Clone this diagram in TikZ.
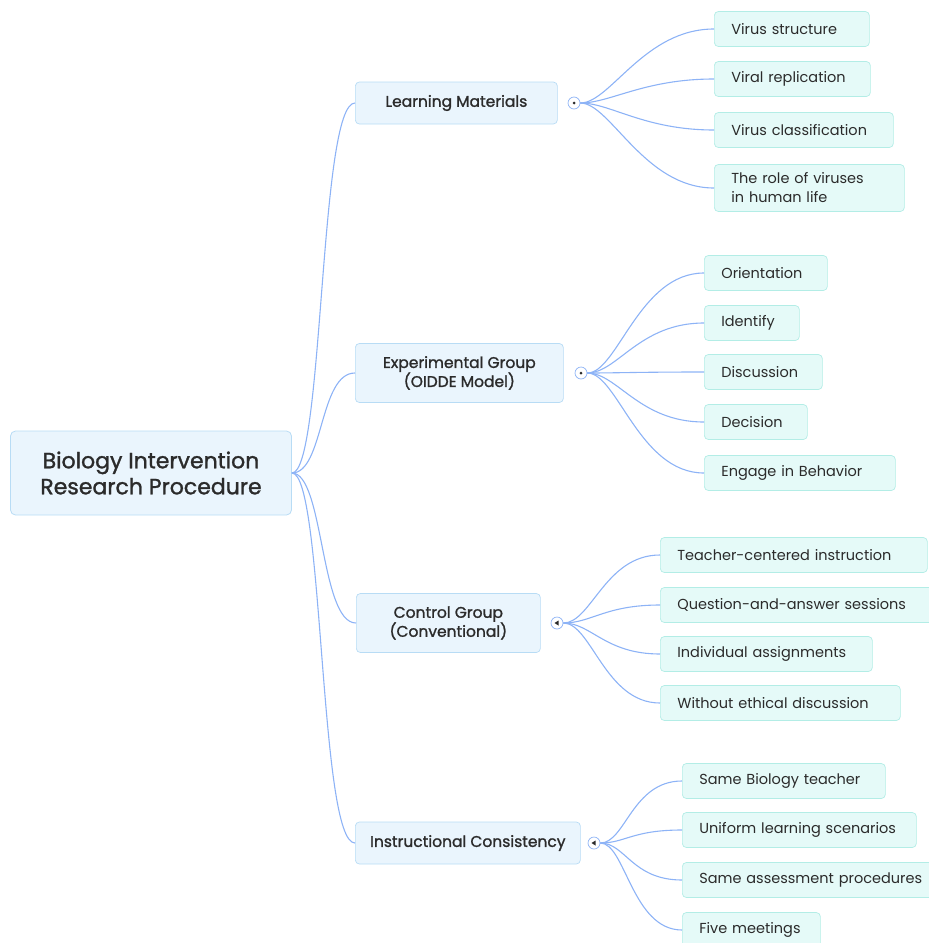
\documentclass[tikz,border=0pt]{standalone}
\usepackage{fontspec}
\setmainfont{Poppins}[BoldFont=Poppins, BoldFeatures={FakeBold=1.3}]
\usepackage{tikz}
\definecolor{linkblue}{HTML}{8DB3F6}
\definecolor{rootfill}{HTML}{EAF5FD}
\definecolor{rootline}{HTML}{B8DCF5}
\definecolor{leaffill}{HTML}{E5FAF8}
\definecolor{leafline}{HTML}{B3EDE6}
\definecolor{textgray}{HTML}{2B2B2B}
\tikzstyle{root} = [draw=rootline, fill=rootfill, rounded corners=5pt, line width=0.8pt, minimum width=281pt, minimum height=84pt, align=center, text=textgray, font=\fontsize{22}{26}\selectfont\bfseries]
\tikzstyle{topic} = [draw=rootline, fill=rootfill, rounded corners=4pt, line width=0.7pt, minimum height=42pt, align=center, text=textgray, font=\fontsize{15.5}{19}\selectfont\bfseries, anchor=west]
\tikzstyle{leaf} = [draw=leafline, fill=leaffill, rounded corners=4pt, line width=0.7pt, inner xsep=17pt, minimum height=35pt, align=left, text=textgray, font=\fontsize{14.5}{19}\selectfont, anchor=west]
\tikzstyle{knob} = [circle, draw=linkblue, fill=white, line width=0.7pt, minimum size=12pt, inner sep=0pt]
\tikzstyle{link} = [draw=linkblue, line width=1.1pt]

\begin{document}
\begin{tikzpicture}[x=1pt, y=-1pt]

	\useasboundingbox (0,0) rectangle (929,943);

	% nodes
	\node[root] (R) at (151,473) {Biology Intervention\\Research Procedure};

	\node[topic, minimum width=202pt] (A) at (355,103) {Learning Materials};
	\node[topic, minimum width=208pt, minimum height=59pt] (B) at (355,373) {Experimental Group\\(OIDDE Model)};
	\node[topic, minimum width=184pt, minimum height=59pt] (C) at (356,623) {Control Group\\(Conventional)};
	\node[topic, minimum width=225pt] (D) at (355,843) {Instructional Consistency};

	\node[knob] (Ak) at (574,103) {};
	\node[knob] (Bk) at (581,373) {};
	\node[knob] (Ck) at (557,623) {};
	\node[knob] (Dk) at (594,843) {};

	\node[leaf, text width=121pt] (A1) at (714,29) {Virus structure};
	\node[leaf, text width=122pt] (A2) at (714,79) {Viral replication};
	\node[leaf, text width=145pt] (A3) at (714,130) {Virus classification};
	\node[leaf, text width=156pt, minimum height=47pt] (A4) at (714,188) {The role of viruses\\in human life};

	\node[leaf, text width=89pt] (B1) at (704,273) {Orientation};
	\node[leaf, text width=61pt] (B2) at (704,323) {Identify};
	\node[leaf, text width=84pt] (B3) at (704,372) {Discussion};
	\node[leaf, text width=69pt] (B4) at (704,422) {Decision};
	\node[leaf, text width=157pt] (B5) at (704,473) {Engage in Behavior};

	\node[leaf, text width=233pt] (C1) at (660,555) {Teacher-centered instruction};
	\node[leaf, text width=241pt] (C2) at (660,605) {Question-and-answer sessions};
	\node[leaf, text width=178pt] (C3) at (660,654) {Individual assignments};
	\node[leaf, text width=206pt] (C4) at (660,703) {Without ethical discussion};

	\node[leaf, text width=169pt] (D1) at (682,781) {Same Biology teacher};
	\node[leaf, text width=200pt] (D2) at (682,830) {Uniform learning scenarios};
	\node[leaf, text width=231pt] (D3) at (682,880) {Same assessment procedures};
	\node[leaf, text width=104pt] (D4) at (682,930) {Five meetings};

	% knob marks
	\fill[textgray] (Ak) circle (1.5pt);
	\fill[textgray] (Bk) circle (1.5pt);
	\fill[textgray] ([xshift=-2.5pt]Ck.center) -- ++(4,-2.5) -- ++(0,5) -- cycle;
	\fill[textgray] ([xshift=-2.5pt]Dk.center) -- ++(4,-2.5) -- ++(0,5) -- cycle;

	% links
	\draw [link] (R.east) .. controls +(32,0) and +(-36,0) .. (A.west);
	\draw [link] (R.east) .. controls +(32,0) and +(-36,0) .. (B.west);
	\draw [link] (R.east) .. controls +(32,0) and +(-36,0) .. (C.west);
	\draw [link] (R.east) .. controls +(32,0) and +(-36,0) .. (D.west);

	\draw [link] (Ak.east) .. controls +(30,0) and +(-70,0) .. (A1.west);
	\draw [link] (Ak.east) .. controls +(30,0) and +(-70,0) .. (A2.west);
	\draw [link] (Ak.east) .. controls +(30,0) and +(-70,0) .. (A3.west);
	\draw [link] (Ak.east) .. controls +(30,0) and +(-70,0) .. (A4.west);

	\draw [link] (Bk.east) .. controls +(30,0) and +(-65,0) .. (B1.west);
	\draw [link] (Bk.east) .. controls +(30,0) and +(-65,0) .. (B2.west);
	\draw [link] (Bk.east) .. controls +(30,0) and +(-65,0) .. (B3.west);
	\draw [link] (Bk.east) .. controls +(30,0) and +(-65,0) .. (B4.west);
	\draw [link] (Bk.east) .. controls +(30,0) and +(-65,0) .. (B5.west);

	\draw [link] (Ck.east) .. controls +(28,0) and +(-55,0) .. (C1.west);
	\draw [link] (Ck.east) .. controls +(28,0) and +(-55,0) .. (C2.west);
	\draw [link] (Ck.east) .. controls +(28,0) and +(-55,0) .. (C3.west);
	\draw [link] (Ck.east) .. controls +(28,0) and +(-55,0) .. (C4.west);

	\draw [link] (Dk.east) .. controls +(25,0) and +(-50,0) .. (D1.west);
	\draw [link] (Dk.east) .. controls +(25,0) and +(-50,0) .. (D2.west);
	\draw [link] (Dk.east) .. controls +(25,0) and +(-50,0) .. (D3.west);
	\draw [link] (Dk.east) .. controls +(25,0) and +(-50,0) .. (D4.west);

\end{tikzpicture}
\end{document}
